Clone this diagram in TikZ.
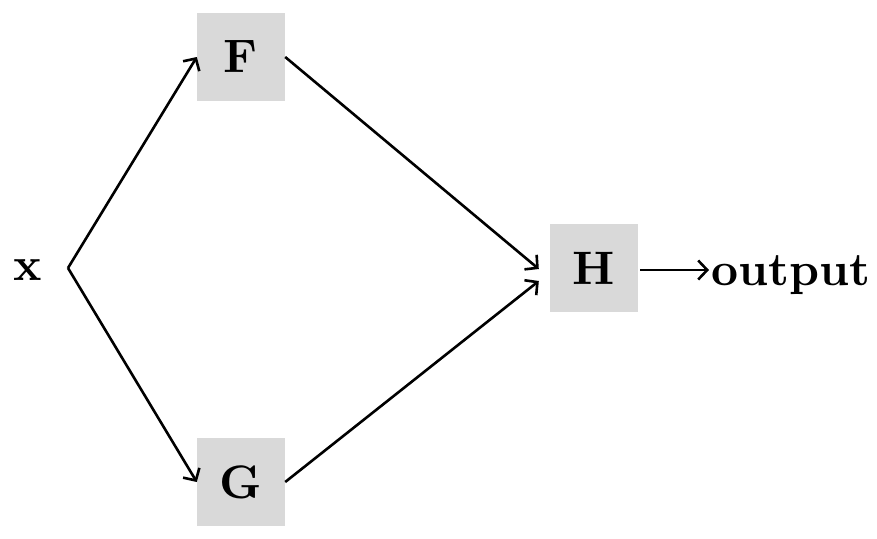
\documentclass[tikz,border=0pt]{standalone}
\usepackage{fontspec}
\newfontfamily\lmbxten{lmroman10-bold.otf}
\usetikzlibrary{arrows.meta}
\begin{document}
\begin{tikzpicture}[x=1pt,y=-1pt,
  blk/.style={fill=gray!30,minimum size=88pt,inner sep=0pt,font=\lmbxten\fontsize{47}{56}\selectfont},
  lbl/.style={inner sep=0pt,font=\lmbxten\fontsize{47}{56}\selectfont},
  conn/.style={line width=2.6pt,-{Straight Barb[length=9pt,width=19pt]}}]
\useasboundingbox (0,0) rectangle (877,538);
\node[blk] (F) at (241,57) {F};
\node[blk] (G) at (241,482) {G};
\node[blk] (H) at (594,268) {H};
\node[lbl,anchor=base] (x) at (28,280) {x};
\node[lbl,anchor=base west] (out) at (711,285) {output};
\coordinate (xo) at (68,268);
\draw[conn] (xo) -- (F.west);
\draw[conn] (xo) -- (G.west);
\draw[conn] (F.east) -- ([xshift=-11pt,yshift=-1pt]H.west);
\draw[conn] (G.east) -- ([xshift=-11pt,yshift=-13pt]H.west);
\draw[conn] ([xshift=2pt,yshift=-2pt]H.east) -- ([xshift=-2pt,yshift=-2pt]H.east -| out.west);
\end{tikzpicture}
\end{document}
